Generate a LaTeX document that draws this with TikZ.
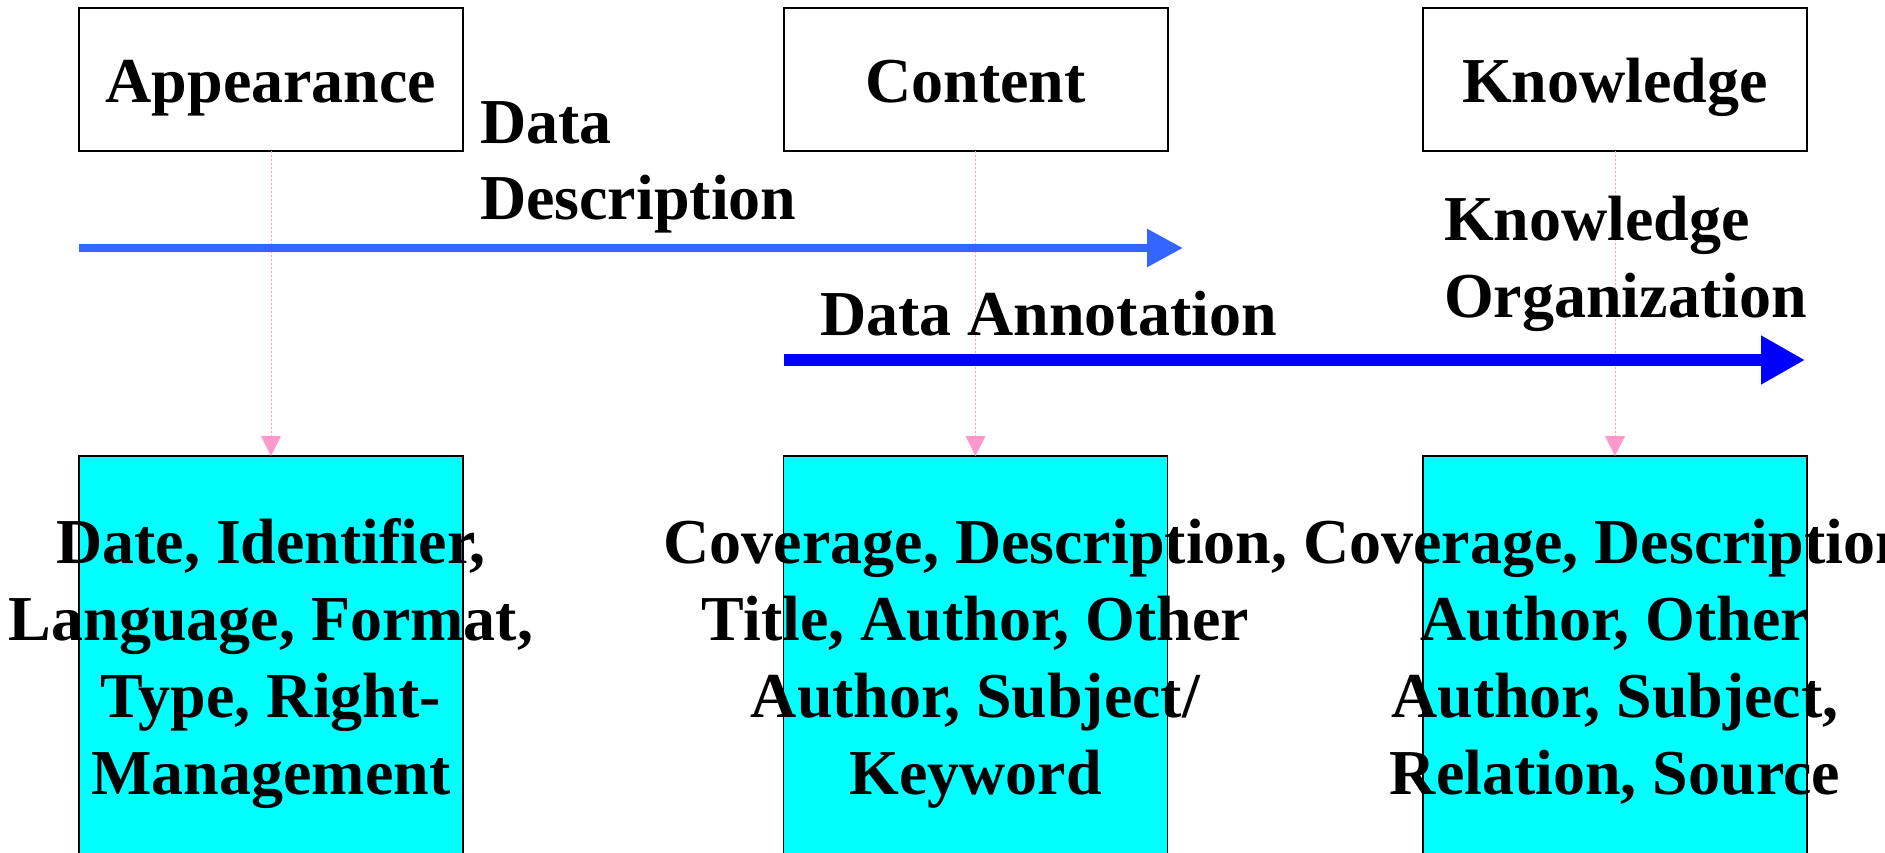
\documentclass[tikz,border=0pt]{standalone}
\usepackage{fontspec}
\setmainfont{Liberation Serif}
\usetikzlibrary{arrows.meta}
\definecolor{lightblue}{HTML}{3366FF}
\definecolor{pureblue}{HTML}{0000FF}
\definecolor{pinkline}{HTML}{FF99CC}
\definecolor{cyanfill}{HTML}{00FFFF}
\begin{document}
\begin{tikzpicture}[x=1pt,y=-1pt,
  lbl/.style={font=\fontsize{64}{76.7}\selectfont\bfseries, inner sep=0pt, outer sep=0pt},
  topbox/.style={draw=black, line width=2pt, fill=white, minimum width=384pt, minimum height=143pt,
    inner sep=0pt, outer sep=0pt, lbl, text height=50pt, text depth=3pt},
  botbox/.style={draw=black, line width=1.5pt, fill=cyanfill, minimum width=384pt, minimum height=420pt,
    inner sep=0pt, outer sep=0pt},
  linkline/.style={draw=pinkline, line width=1pt, dash pattern=on 2pt off 2pt,
    -{Triangle[length=20pt,width=20pt,fill=pinkline]}},
  descarrow/.style={draw=lightblue, line width=8.5pt, -{Triangle[length=36pt,width=36pt,fill=lightblue]}},
  annoarrow/.style={draw=pureblue, line width=12pt, -{Triangle[length=44pt,width=46pt,fill=pureblue]}}
]
\useasboundingbox (0,0) rectangle (1885,853);
\clip (0,0) rectangle (1885,853);

% top boxes
\node[topbox] (app) at (271,79.5) {Appearance};
\node[topbox] (con) at (975.5,79.5) {Content};
\node[topbox] (kno) at (1615,79.5) {Knowledge};

% bottom boxes
\node[botbox] (appb) at (271,666) {};
\node[botbox] (conb) at (975.5,666) {};
\node[botbox] (knob) at (1615,666) {};

% dotted links
\draw[linkline] (app.south) -- (appb.north);
\draw[linkline] (con.south) -- (conb.north);
\draw[linkline] (kno.south) -- (knob.north);

% process arrows
\coordinate (dds) at (79,248);
\coordinate (dde) at (1183,248);
\coordinate (das) at (784,360);
\coordinate (dae) at (1805,360);
\draw[descarrow] (dds) -- (dde);
\draw[annoarrow] (das) -- (dae);

% arrow labels (base anchor = baseline of last line)
\node[lbl, anchor=base west, align=left] (ddl) at (480,220) {Data\\Description};
\node[lbl, anchor=base west, align=left] (kol) at (1444,317) {Knowledge\\Organization};
\node[lbl, anchor=base west] (dal) at (820,335) {Data Annotation};

% box texts
\node[lbl, anchor=base, align=center] (appt) at (271,794)
  {Date, Identifier,\\Language, Format,\\Type, Right-\\Management};
\node[lbl, anchor=base, align=center] (cont) at (975.5,794)
  {Coverage, Description,\\Title, Author, Other\\Author, Subject/\\Keyword};
\node[lbl, anchor=base, align=center] (knot) at (1615,794)
  {Coverage, Description,\\Author, Other\\Author, Subject,\\Relation, Source};
\end{tikzpicture}
\end{document}
